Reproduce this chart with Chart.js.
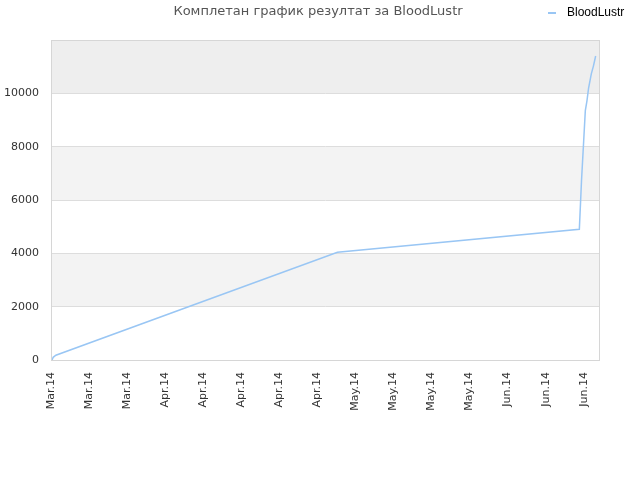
<!DOCTYPE html>
<html>
<head>
<meta charset="utf-8">
<title>BloodLustr</title>
<script src="https://cdn.jsdelivr.net/npm/chart.js@4.4.1/dist/chart.umd.min.js"></script>
<style>
    body { margin: 0; background: #fff; }
    #wrap { width: 640px; height: 480px; }
</style>
</head>
<body>
<div id="wrap"><canvas id="chartCanvas" width="640" height="480"></canvas></div>
<script>
// days counted from the first tick (one tick every 7 days)
const days = [0.2, 0.4, 0.9, 52.7, 97.2, 97.6, 98.0, 98.3, 98.6, 98.9, 99.4, 99.8, 100.2];
const values = [0, 100, 180, 4040, 4900, 6730, 8220, 9350, 9720, 10200, 10730, 11030, 11400];
const tickLabels = ["Mar.14", "Mar.14", "Mar.14", "Apr.14", "Apr.14", "Apr.14", "Apr.14", "Apr.14",
    "May.14", "May.14", "May.14", "May.14", "Jun.14", "Jun.14", "Jun.14"];
const seriesName = "BloodLustr";
const chartTitle = "Комплетан график резултат за BloodLustr";

const lineColor = "#99c6f4";

// alternating background bands + title + legend
const decorPlugin = {
    id: "decor",
    beforeDraw(chart) {
        const { ctx, chartArea, scales } = chart;
        const y = scales.y;
        const bands = [
            [2000, 4000, "#f3f3f3"],
            [6000, 8000, "#f3f3f3"],
            [10000, 12000, "#eeeeee"]
        ];
        ctx.save();
        bands.forEach(b => {
            const top = y.getPixelForValue(b[1]);
            const bottom = y.getPixelForValue(b[0]);
            ctx.fillStyle = b[2];
            ctx.fillRect(chartArea.left, top, chartArea.right - chartArea.left, bottom - top);
        });
        ctx.restore();
    },
    afterDraw(chart) {
        const { ctx, chartArea } = chart;
        ctx.save();
        ctx.strokeStyle = "#d6d6d6";
        ctx.lineWidth = 1;
        ctx.strokeRect(chartArea.left + 0.5, chartArea.top + 0.5,
            chartArea.right - chartArea.left - 1, chartArea.bottom - chartArea.top);

        ctx.fillStyle = "#555";
        ctx.font = "13px 'DejaVu Sans'";
        ctx.textAlign = "center";
        ctx.textBaseline = "middle";
        ctx.fillText(chartTitle, 318, 12);

        ctx.strokeStyle = lineColor;
        ctx.lineWidth = 2;
        ctx.beginPath();
        ctx.moveTo(548, 13);
        ctx.lineTo(556, 13);
        ctx.stroke();
        ctx.fillStyle = "#000";
        ctx.font = "12px 'Liberation Sans'";
        ctx.textAlign = "left";
        ctx.fillText(seriesName, 567, 13);
        ctx.restore();
    }
};

new Chart(document.getElementById("chartCanvas"), {
    type: "line",
    data: {
        datasets: [{
            label: seriesName,
            data: days.map((d, i) => ({ x: d, y: values[i] })),
            borderColor: lineColor,
            borderWidth: 1.5,
            pointRadius: 0,
            tension: 0,
            fill: false
        }]
    },
    options: {
        responsive: false,
        animation: false,
        layout: { padding: { left: 0, right: 40, top: 40, bottom: 0 } },
        plugins: {
            legend: { display: false },
            title: { display: false },
            tooltip: { enabled: false }
        },
        scales: {
            x: {
                type: "linear",
                min: 0,
                max: 101,
                grid: { display: false },
                border: { display: false },
                afterFit(scale) { scale.height = 120; },
                ticks: {
                    stepSize: 7,
                    autoSkip: false,
                    includeBounds: false,
                    minRotation: 90,
                    maxRotation: 90,
                    padding: 4,
                    color: "#333",
                    font: { family: "DejaVu Sans", size: 11 },
                    callback: v => tickLabels[Math.round(v / 7)] || ""
                }
            },
            y: {
                min: 0,
                max: 12000,
                grid: { color: "#dddddd", drawTicks: false },
                border: { display: false },
                afterFit(scale) { scale.width = 51; },
                ticks: {
                    stepSize: 2000,
                    padding: 12,
                    color: "#333",
                    font: { family: "DejaVu Sans", size: 11 },
                    callback: v => v === 12000 ? "" : v
                }
            }
        }
    },
    plugins: [decorPlugin]
});
</script>
</body>
</html>
